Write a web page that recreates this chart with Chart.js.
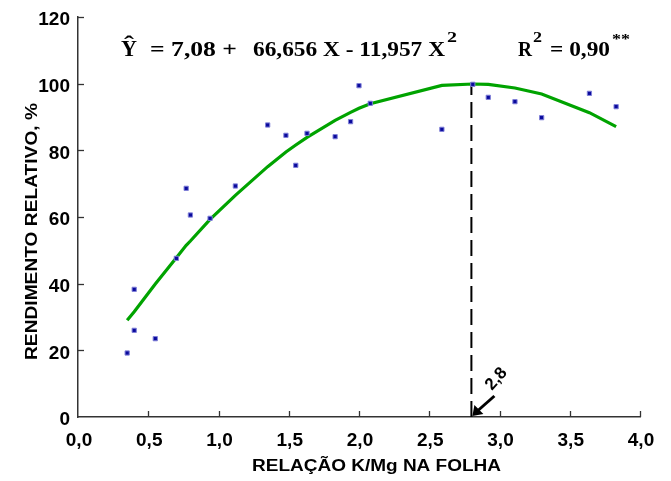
<!DOCTYPE html>
<html><head><meta charset="utf-8">
<script src="https://cdn.jsdelivr.net/npm/chart.js@4.4.1/dist/chart.umd.min.js"></script>
<style>html,body{margin:0;padding:0;background:#fff;}canvas{display:block;}</style>
</head><body>
<canvas id="c" width="671" height="481"></canvas>
<script>
// Observed points (K/Mg ratio, relative yield %)
const obsX = [0.35,0.40,0.40,0.55,0.70,0.77,0.80,0.94,1.12,1.35,1.48,1.55,1.63,1.83,1.94,2.00,2.08,2.59,2.81,2.92,3.11,3.30,3.64,3.83];
const obsY = [19.2,38.3,26.0,23.5,47.6,68.6,60.6,59.6,69.3,87.6,84.5,75.5,85.1,84.1,88.6,99.4,94.1,86.3,99.8,95.9,94.6,89.8,97.1,93.1];
// Fitted curve as drawn
const fitX = [0.35,0.40,0.55,0.70,0.77,0.80,0.94,1.12,1.35,1.48,1.55,1.63,1.83,1.94,2.00,2.08,2.59,2.81,2.92,3.11,3.30,3.64,3.83];
const fitY = [29.0,31.6,39.9,47.8,51.5,52.8,59.3,66.5,75.1,79.5,81.6,83.9,89.0,91.4,92.6,94.0,99.5,99.9,99.8,98.7,96.9,91.3,87.1];
// Optimum marker
const optX = 2.8;
const optY = [0, 99.9];
const optLabel = "2,8";
// Axis ticks
const xTicks = [0,0.5,1,1.5,2,2.5,3,3.5,4];
const yTicks = [0,20,40,60,80,100,120];
const xTitle = "RELAÇÃO K/Mg NA FOLHA";
const yTitle = "RENDIMENTO RELATIVO, %";

const fmt = v => v.toFixed(1).replace('.', ',');
const SANS = '"Liberation Sans", Arial, sans-serif';
const SERIF = '"Liberation Serif", "Times New Roman", serif';

function fitText(ctx, str, x0, x1, y, font) {
  ctx.save();
  ctx.font = font; ctx.textAlign = 'left'; ctx.textBaseline = 'alphabetic';
  const w = ctx.measureText(str).width;
  ctx.translate(x0, y); ctx.scale((x1 - x0) / w, 1);
  ctx.fillText(str, 0, 0);
  ctx.restore();
}

const decor = {
  id: 'decor',
  afterDraw(chart) {
    const ctx = chart.ctx, xs = chart.scales.x, ys = chart.scales.y;
    ctx.save();
    // inward ticks
    ctx.strokeStyle = '#333'; ctx.lineWidth = 1.3;
    const y0 = ys.getPixelForValue(0), x0 = xs.getPixelForValue(0);
    xTicks.forEach(v => { if (v === 0) return; const p = Math.round(xs.getPixelForValue(v)) + 0.5;
      ctx.beginPath(); ctx.moveTo(p, y0); ctx.lineTo(p, y0 - 6); ctx.stroke(); });
    yTicks.forEach(v => { if (v === 0) return; const p = Math.round(ys.getPixelForValue(v)) + 0.5;
      ctx.beginPath(); ctx.moveTo(x0, p); ctx.lineTo(x0 + 6, p); ctx.stroke(); });
    // tick labels
    ctx.fillStyle = '#000';
    ctx.font = 'bold 19px ' + SANS;
    ctx.textBaseline = 'middle';
    ctx.textAlign = 'center';
    xTicks.forEach(v => ctx.fillText(fmt(v), xs.getPixelForValue(v) + 1, y0 + 24));
    ctx.textAlign = 'right';
    yTicks.forEach(v => ctx.fillText(String(v), x0 - 8, ys.getPixelForValue(v) + 3));
    // axis titles
    fitText(ctx, xTitle, 252, 501, 471, 'bold 16px ' + SANS);
    ctx.save(); ctx.translate(37, 360); ctx.rotate(-Math.PI / 2);
    fitText(ctx, yTitle, 0, 257, 0, 'bold 16px ' + SANS);
    ctx.restore();
    // arrow to optimum
    const ax = xs.getPixelForValue(optX), ay = y0;
    ctx.strokeStyle = '#000'; ctx.fillStyle = '#000'; ctx.lineWidth = 3;
    ctx.beginPath(); ctx.moveTo(ax + 23, ay - 21); ctx.lineTo(ax + 6, ay - 6); ctx.stroke();
    ctx.beginPath(); ctx.moveTo(ax + 1, ay - 1); ctx.lineTo(ax + 12, ay - 3); ctx.lineTo(ax + 3, ay - 12); ctx.closePath(); ctx.fill();
    ctx.save(); ctx.translate(ax + 25, ay - 38); ctx.rotate(-0.85);
    ctx.font = 'bold 17px ' + SANS; ctx.textAlign = 'center'; ctx.textBaseline = 'middle';
    ctx.fillText(optLabel, 0, 0); ctx.restore();
    // equation
    const by = 56;
    fitText(ctx, 'Y', 121, 137, by, 'bold 24px ' + SERIF);
    fitText(ctx, '\u02C6', 124, 134, by - 5, 'bold 20px ' + SERIF);
    fitText(ctx, '= 7,08 +', 150, 237, by, 'bold 20px ' + SERIF);
    fitText(ctx, '66,656 X - 11,957 X', 253, 445, by, 'bold 20px ' + SERIF);
    fitText(ctx, '2', 447, 457, by - 14, 'bold 15px ' + SERIF);
    fitText(ctx, 'R', 518, 532, by, 'bold 20px ' + SERIF);
    fitText(ctx, '2', 533, 542, by - 14, 'bold 15px ' + SERIF);
    fitText(ctx, '= 0,90', 550, 610, by, 'bold 20px ' + SERIF);
    fitText(ctx, '**', 612, 630, by - 12, 'bold 14px ' + SERIF);
    ctx.restore();
  }
};

new Chart(document.getElementById('c'), {
  type: 'scatter',
  data: {
    datasets: [
      { label: 'fit', type: 'line', data: fitX.map((x, i) => ({x, y: fitY[i]})),
        borderColor: '#00a300', borderWidth: 3.2, pointRadius: 0, fill: false, tension: 0, order: 2 },
      { label: 'opt', type: 'line', data: optY.map(y => ({x: optX, y})),
        borderColor: '#000', borderWidth: 2, borderDash: [16, 7], pointRadius: 0, fill: false, order: 3 },
      { label: 'obs', data: obsX.map((x, i) => ({x, y: obsY[i]})),
        pointStyle: 'rect', pointRadius: 3, backgroundColor: '#0a0a9c', borderColor: '#8080d8', borderWidth: 1, order: 1 }
    ]
  },
  options: {
    responsive: false, animation: false, devicePixelRatio: 1,
    layout: { padding: { left: 0, right: 31, top: 17, bottom: 0 } },
    plugins: { legend: { display: false }, tooltip: { enabled: false } },
    scales: {
      x: { type: 'linear', min: 0, max: 4,
        afterFit: s => { s.height = 64; },
        afterBuildTicks: s => { s.ticks = xTicks.map(v => ({value: v})); },
        grid: { drawOnChartArea: false, drawTicks: false },
        border: { color: '#333', width: 1.5 },
        ticks: { display: false } },
      y: { type: 'linear', min: 0, max: 120,
        afterFit: s => { s.width = 78; },
        afterBuildTicks: s => { s.ticks = yTicks.map(v => ({value: v})); },
        grid: { drawOnChartArea: false, drawTicks: false },
        border: { color: '#333', width: 1.5 },
        ticks: { display: false } }
    }
  },
  plugins: [decor]
});
</script>
</body></html>
